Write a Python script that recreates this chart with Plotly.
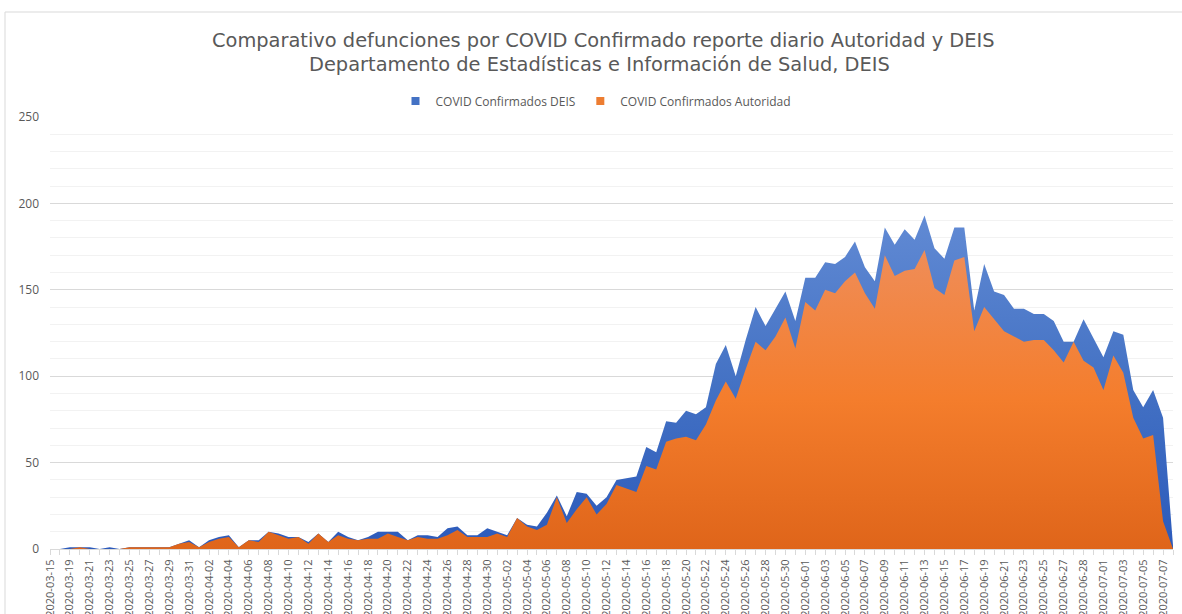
import plotly.graph_objects as go

# ---------------- data ----------------
CATEGORIES = [
    "2020-03-15", "2020-03-17",
    "2020-03-19", "2020-03-20", "2020-03-21", "2020-03-22", "2020-03-23", "2020-03-24", "2020-03-25",
    "2020-03-26", "2020-03-27", "2020-03-28", "2020-03-29", "2020-03-30", "2020-03-31",
    "2020-04-01", "2020-04-02", "2020-04-03", "2020-04-04", "2020-04-05", "2020-04-06", "2020-04-07",
    "2020-04-08", "2020-04-09", "2020-04-10", "2020-04-11", "2020-04-12", "2020-04-13", "2020-04-14",
    "2020-04-15", "2020-04-16", "2020-04-17", "2020-04-18", "2020-04-19", "2020-04-20", "2020-04-21",
    "2020-04-22", "2020-04-23", "2020-04-24", "2020-04-25", "2020-04-26", "2020-04-27", "2020-04-28",
    "2020-04-29", "2020-04-30",
    "2020-05-01", "2020-05-02", "2020-05-03", "2020-05-04", "2020-05-05", "2020-05-06", "2020-05-07",
    "2020-05-08", "2020-05-09", "2020-05-10", "2020-05-11", "2020-05-12", "2020-05-13", "2020-05-14",
    "2020-05-15", "2020-05-16", "2020-05-17", "2020-05-18", "2020-05-19", "2020-05-20", "2020-05-21",
    "2020-05-22", "2020-05-23", "2020-05-24", "2020-05-25", "2020-05-26", "2020-05-27", "2020-05-28",
    "2020-05-29", "2020-05-30", "2020-05-31",
    "2020-06-01", "2020-06-02", "2020-06-03", "2020-06-04", "2020-06-05", "2020-06-06", "2020-06-07",
    "2020-06-08", "2020-06-09", "2020-06-10", "2020-06-11", "2020-06-12", "2020-06-13", "2020-06-14",
    "2020-06-15", "2020-06-16", "2020-06-17", "2020-06-18", "2020-06-19", "2020-06-20", "2020-06-21",
    "2020-06-22", "2020-06-23", "2020-06-24", "2020-06-25", "2020-06-26", "2020-06-27",
    "2020-06-29", "2020-06-28", "2020-06-30",
    "2020-07-01", "2020-07-02", "2020-07-03", "2020-07-04", "2020-07-05", "2020-07-06", "2020-07-07",
    "2020-07-08",
]

DEIS = [
    0, 0, 1, 1, 1, 0, 1, 0, 1, 1, 1, 1, 1, 3, 5, 1, 5, 7, 8, 1, 5, 5, 10, 9, 7, 7, 4, 9, 4, 10,
    7, 5, 7, 10, 10, 10, 5, 8, 8, 7, 12, 13, 8, 8, 12, 10, 8, 18, 14, 13, 21, 31, 19, 33, 32, 25, 30, 40, 41, 42,
    59, 56, 74, 73, 80, 78, 82, 107, 118, 100, 121, 140, 129, 139, 149, 132, 157, 157, 166, 165,
    169, 178, 163, 155, 186, 176, 185, 179, 193, 174,
    168, 186, 186, 138, 165, 149, 147, 139, 139, 136, 136, 132, 120, 120, 133, 122, 111, 126, 124, 92,
    82, 92, 76, 2,
]

AUTORIDAD = [
    0, 0, 0, 1, 0, 0, 0, 0, 1, 1, 1, 1, 1, 3, 4, 1, 4, 6, 7, 1, 5, 4, 10, 8, 6, 7, 3, 9, 4, 8,
    6, 5, 6, 6, 9, 7, 5, 7, 6, 6, 8, 11, 7, 7, 7, 9, 7, 18, 13, 11, 14, 30, 15, 23, 30, 20, 26, 37, 35, 33,
    48, 46, 62, 64, 65, 63, 72, 86, 97, 87, 104, 120, 115, 123, 134, 116, 143, 138, 150, 148,
    155, 160, 148, 139, 170, 158, 161, 162, 173, 151,
    147, 167, 169, 126, 140, 133, 126, 123, 120, 121, 121, 115, 108, 120, 109, 105, 92, 112, 102, 76,
    64, 66, 16, 0,
]

SERIES_NAMES = ["COVID Confirmados DEIS", "COVID Confirmados Autoridad"]
TITLE_LINES = [
    "Comparativo defunciones por COVID Confirmado reporte diario Autoridad y DEIS",
    "Departamento de Estadísticas e Información de Salud, DEIS",
]
LABEL_EVERY = 2

# ---------------- styling ----------------
TEXT = "#595959"
FONT = "Open Sans"
TITLE_FONT = "DejaVu Sans"
BLUE = "#4472c4"
ORANGE = "#ed7d31"
BLUE_SCALE = [[0, "#2c5abb"], [0.5, "#4472c4"], [1, "#618ad4"]]
ORANGE_SCALE = [[0, "#df651a"], [0.5, "#f47d2c"], [1, "#ef8d58"]]

W, H = 1182, 614
L, R, T, B = 50, 9, 117, 65
plot_w = W - L - R
plot_h = H - T - B

x = list(range(len(CATEGORIES)))
ticktext = [c if i % LABEL_EVERY == 0 else "" for i, c in enumerate(CATEGORIES)]

fig = go.Figure()
fig.add_trace(go.Scatter(
    x=x, y=DEIS, mode="lines", line=dict(width=0, color=BLUE),
    fill="tozeroy", fillgradient=dict(type="vertical", colorscale=BLUE_SCALE),
    showlegend=False, name=SERIES_NAMES[0], hoverinfo="skip",
))
fig.add_trace(go.Scatter(
    x=x, y=AUTORIDAD, mode="lines", line=dict(width=0, color=ORANGE),
    fill="tozeroy", fillgradient=dict(type="vertical", colorscale=ORANGE_SCALE),
    showlegend=False, name=SERIES_NAMES[1], hoverinfo="skip",
))
# legend entries (square swatches)
for name, col in zip(SERIES_NAMES, [BLUE, ORANGE]):
    fig.add_trace(go.Scatter(
        x=[None], y=[None], mode="markers", name=name,
        marker=dict(symbol="square", size=8, color=col),
    ))


def py(pix):
    """pixel row -> paper y"""
    return (H - B - pix) / plot_h


def px(pix):
    return (pix - L) / plot_w


fig.update_layout(
    width=W, height=H, autosize=False,
    margin=dict(l=L, r=R, t=T, b=B, pad=0),
    paper_bgcolor="white", plot_bgcolor="white",
    font=dict(family=FONT, color=TEXT),
    showlegend=True,
    legend=dict(
        orientation="h", x=px(596), xanchor="center", y=py(101), yanchor="middle",
        font=dict(size=12, color=TEXT, family=FONT), itemwidth=30,
        bgcolor="rgba(0,0,0,0)",
    ),
    xaxis=dict(
        range=[0, len(CATEGORIES) - 1], tickmode="array", tickvals=x, ticktext=ticktext,
        tickangle=-90, tickfont=dict(size=11, color=TEXT, family=FONT),
        ticks="outside", ticklen=5, tickcolor="#d9d9d9", tickwidth=1,
        showline=True, linecolor="#d9d9d9", linewidth=1,
        showgrid=False, zeroline=False, automargin=False, fixedrange=True,
    ),
    yaxis=dict(
        range=[0, 250], tickmode="linear", tick0=0, dtick=50,
        tickfont=dict(size=12, color=TEXT, family=FONT),
        showgrid=True, gridcolor="#d9d9d9", gridwidth=1,
        minor=dict(dtick=10, showgrid=True, gridcolor="#f2f2f2", gridwidth=1, ticks=""),
        showline=False, zeroline=False, ticks="", ticklabelstandoff=10,
        automargin=False, fixedrange=True,
    ),
    annotations=[
        dict(text=TITLE_LINES[0], xref="paper", yref="paper", x=px(603), y=py(40),
             xanchor="center", yanchor="middle", showarrow=False,
             font=dict(size=19.4, color=TEXT, family=TITLE_FONT)),
        dict(text=TITLE_LINES[1], xref="paper", yref="paper", x=px(599), y=py(64),
             xanchor="center", yanchor="middle", showarrow=False,
             font=dict(size=19.4, color=TEXT, family=TITLE_FONT)),
    ],
    shapes=[
        dict(type="rect", xref="paper", yref="paper", x0=px(5), x1=px(W + 20),
             y0=py(H + 20), y1=py(12), line=dict(color="#d9d9d9", width=1),
             fillcolor="rgba(0,0,0,0)", layer="below"),
    ],
)

# remove the default 8px page margin so the figure fills the window exactly
fig.write_html(
    "out.html",
    config={"displayModeBar": False},
    post_script="document.body.style.margin='0';document.body.style.overflow='hidden';",
)
